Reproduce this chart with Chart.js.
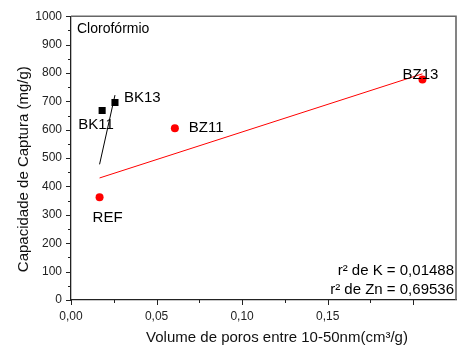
<!DOCTYPE html>
<html>
<head>
<meta charset="utf-8">
<script src="https://cdn.jsdelivr.net/npm/chart.js@4/dist/chart.umd.min.js"></script>
<style>
  html, body { margin: 0; padding: 0; background: #fff; }
  #wrap { width: 465px; height: 353px; }
</style>
</head>
<body>
<div id="wrap"><canvas id="chart"></canvas></div>
<script>
// samples (volume de poros, capacidade de captura)
const kNames = ['BK11', 'BK13'];
const kVol = [0.0182, 0.0257];
const kCap = [668, 696];

const znNames = ['REF', 'BZ11', 'BZ13'];
const znVol = [0.0167, 0.0607, 0.2054];
const znCap = [362, 605, 777];

// linear fits
const kFitVol = [0.0167, 0.0257];
const kFitCap = [478, 722];
const znFitVol = [0.0167, 0.2054];
const znFitCap = [430, 797];

const fitNotes = ['r² de K = 0,01488', 'r² de Zn = 0,69536'];
const xTitle = 'Volume de poros entre 10-50nm(cm³/g)';
const yTitle = 'Capacidade de Captura (mg/g)';

// label offsets from each marker (px)
const labelShift = {
  REF: [-7, 21], BK11: [-24, 14], BK13: [9, -5], BZ11: [14, 0], BZ13: [-20, -5]
};

const FONT = '"Liberation Sans", Arial, sans-serif';
const toPts = (xs, ys) => xs.map((x, i) => ({ x: x, y: ys[i] }));

const axisDecor = {
  id: 'axisDecor',
  afterDraw(chart) {
    const { ctx, chartArea: a, scales } = chart;
    ctx.save();
    // top and right frame
    ctx.strokeStyle = '#666';
    ctx.lineWidth = 1.6;
    ctx.beginPath();
    ctx.moveTo(a.left, a.top);
    ctx.lineTo(a.right, a.top);
    ctx.lineTo(a.right, a.bottom);
    ctx.stroke();

    // outward ticks, major and minor
    ctx.strokeStyle = '#222';
    ctx.lineWidth = 1;
    ctx.beginPath();
    for (let v = 0; v <= 1000; v += 50) {
      const y = Math.round(scales.y.getPixelForValue(v)) + 0.5;
      const len = v % 100 === 0 ? 5 : 3;
      ctx.moveTo(a.left, y);
      ctx.lineTo(a.left - len, y);
    }
    for (let i = 0; i <= 8; i++) {
      const x = Math.round(scales.x.getPixelForValue(i * 0.025)) + 0.5;
      const len = i % 2 === 0 ? 5 : 3;
      ctx.moveTo(x, a.bottom);
      ctx.lineTo(x, a.bottom + len);
    }
    ctx.stroke();

    // point names
    ctx.fillStyle = '#000';
    ctx.font = '15px ' + FONT;
    ctx.textAlign = 'left';
    ctx.textBaseline = 'middle';
    const named = [[kNames, kVol, kCap], [znNames, znVol, znCap]];
    named.forEach(([names, xs, ys]) => {
      names.forEach((n, i) => {
        const px = scales.x.getPixelForValue(xs[i]);
        const py = scales.y.getPixelForValue(ys[i]);
        const s = labelShift[n];
        ctx.fillText(n, px + s[0], py + s[1]);
      });
    });

    // fit notes
    ctx.textAlign = 'right';
    ctx.fillText(fitNotes[0], a.right - 2, a.bottom - 29);
    ctx.fillText(fitNotes[1], a.right - 2, a.bottom - 10);

    // axis titles
    ctx.fillStyle = '#111';
    ctx.textAlign = 'center';
    ctx.fillText(xTitle, a.left + 206, a.bottom + 38);
    ctx.save();
    ctx.translate(24, a.top + 153);
    ctx.rotate(-Math.PI / 2);
    ctx.fillText(yTitle, 0, 0);
    ctx.restore();

    // panel title
    ctx.fillStyle = '#000';
    ctx.font = '14px ' + FONT;
    ctx.textAlign = 'left';
    ctx.fillText('Clorofórmio', a.left + 6, a.top + 13);
    ctx.restore();
  }
};

new Chart(document.getElementById('chart'), {
  type: 'scatter',
  data: {
    datasets: [
      {
        data: toPts(kFitVol, kFitCap),
        showLine: true, borderColor: '#000', borderWidth: 1,
        pointRadius: 0, fill: false
      },
      {
        data: toPts(znFitVol, znFitCap),
        showLine: true, borderColor: '#ff0000', borderWidth: 1,
        pointRadius: 0, fill: false
      },
      {
        data: toPts(kVol, kCap),
        pointStyle: 'rect', pointRadius: 5,
        backgroundColor: '#000', borderColor: '#000', borderWidth: 0
      },
      {
        data: toPts(znVol, znCap),
        pointStyle: 'circle', pointRadius: 4,
        backgroundColor: '#ff0000', borderColor: '#ff0000', borderWidth: 0
      }
    ]
  },
  options: {
    responsive: true,
    maintainAspectRatio: false,
    animation: false,
    layout: { padding: { top: 13, right: 3, left: 0, bottom: 0 } },
    plugins: { legend: { display: false }, tooltip: { enabled: false } },
    scales: {
      x: {
        type: 'linear', min: 0, max: 0.225,
        afterFit(s) { s.height = 53; },
        grid: { display: false, drawTicks: false },
        border: { display: true, color: '#222', width: 1.3 },
        ticks: {
          stepSize: 0.05, padding: 9, color: '#222',
          font: { family: FONT, size: 12 },
          callback: v => (Math.abs(v / 0.05 - Math.round(v / 0.05)) < 1e-6 && v <= 0.2001) ? v.toFixed(2).replace('.', ',') : ''
        }
      },
      y: {
        type: 'linear', min: 0, max: 1000,
        afterFit(s) { s.width = 71; },
        grid: { display: false, drawTicks: false },
        border: { display: true, color: '#222', width: 1.3 },
        ticks: {
          stepSize: 100, padding: 9, color: '#222',
          font: { family: FONT, size: 12 },
          callback: v => String(v)
        }
      }
    }
  },
  plugins: [axisDecor]
});
</script>
</body>
</html>
